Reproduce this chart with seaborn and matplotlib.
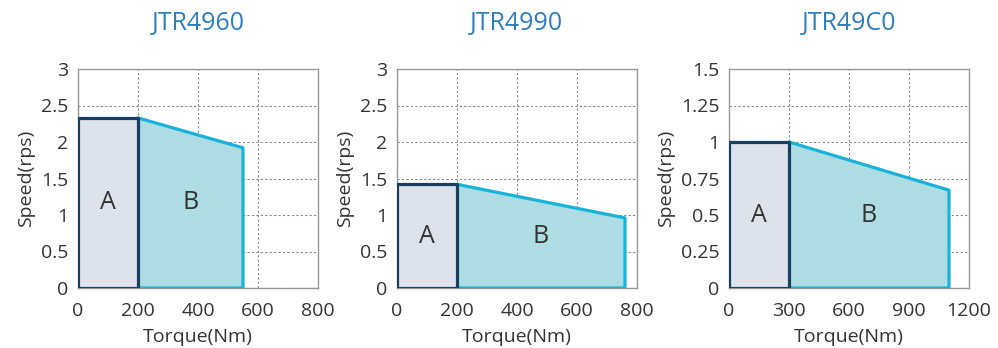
import matplotlib
matplotlib.use("Agg")
import matplotlib.pyplot as plt
import seaborn as sns
import pandas as pd

models = ["JTR4960", "JTR4990", "JTR49C0"]
# region A: rated torque and speed; region B: end point of the speed-torque line
torque_a = [200, 200, 300]
speed_a = [2.33, 1.42, 1.0]
torque_b_end = [550, 760, 1100]
speed_b_end = [1.92, 0.96, 0.67]

x_ticks = [[0, 200, 400, 600, 800], [0, 200, 400, 600, 800], [0, 300, 600, 900, 1200]]
y_ticks = [[0, 0.5, 1, 1.5, 2, 2.5, 3], [0, 0.5, 1, 1.5, 2, 2.5, 3],
           [0, 0.25, 0.5, 0.75, 1, 1.25, 1.5]]
y_labels = [["0", "0.5", "1", "1.5", "2", "2.5", "3"],
            ["0", "0.5", "1", "1.5", "2", "2.5", "3"],
            ["0", "0.25", "0.5", "0.75", "1", "1.25", "1.5"]]

sns.set_style("white")
plt.rcParams["font.family"] = ["Open Sans", "DejaVu Sans"]

W, H = 998, 348
fig = plt.figure(figsize=(W / 100, H / 100), dpi=100)
lefts = [78, 397, 729]
ylab_off = [43, 43, 54]
axes = [fig.add_axes([l / W, 1 - 288 / H, 240 / W, 219 / H]) for l in lefts]

col_a_fill = "#dee2eb"
col_a_edge = "#163f62"
col_b_fill = "#addde3"
col_b_edge = "#17b3d9"
txt = "#333333"

for i, ax in enumerate(axes):
    ta, sa = torque_a[i], speed_a[i]
    tb, sb = torque_b_end[i], speed_b_end[i]

    ax.fill_between([ta, tb], [sa, sb], 0, color=col_b_fill, zorder=2, linewidth=0)
    b_outline = pd.DataFrame({"x": [ta, ta, tb, tb, ta], "y": [0, sa, sb, 0, 0]})
    sns.lineplot(data=b_outline, x="x", y="y", sort=False, estimator=None,
                 color=col_b_edge, linewidth=2.3, ax=ax, zorder=3)

    ax.fill_between([0, ta], [sa, sa], 0, color=col_a_fill, zorder=4, linewidth=0)
    a_outline = pd.DataFrame({"x": [0, 0, ta, ta, 0], "y": [0, sa, sa, 0, 0]})
    sns.lineplot(data=a_outline, x="x", y="y", sort=False, estimator=None,
                 color=col_a_edge, linewidth=2.3, ax=ax, zorder=5)

    ax.text(ta / 2, sa / 2, "A", ha="center", va="center", fontsize=18, color=txt, zorder=6)
    ax.text((ta + tb) / 2, sa / 2, "B", ha="center", va="center", fontsize=18, color=txt, zorder=6)

    ax.set_xlim(x_ticks[i][0], x_ticks[i][-1])
    ax.set_ylim(y_ticks[i][0], y_ticks[i][-1])
    ax.set_xticks(x_ticks[i])
    ax.set_yticks(y_ticks[i])
    ax.set_yticklabels(y_labels[i])
    ax.grid(True, color="#888888", linestyle=(0, (2, 2)), linewidth=0.8, zorder=1)
    ax.set_axisbelow(True)
    ax.tick_params(axis="both", length=0, labelsize=14, colors=txt)
    ax.tick_params(axis="x", pad=10)
    ax.tick_params(axis="y", pad=7)
    for sp in ax.spines.values():
        sp.set_color("#999999")
        sp.set_linewidth(1)
    ax.set_xlabel("Torque(Nm)", fontsize=14, color=txt, labelpad=6)
    ax.set_ylabel("Speed(rps)", fontsize=14, color=txt)
    ax.yaxis.set_label_coords(-ylab_off[i] / 240, 0.5)
    ax.set_title(models[i], fontsize=18, color="#2e7dbd", pad=28)

fig.savefig("out.png", dpi=100)
